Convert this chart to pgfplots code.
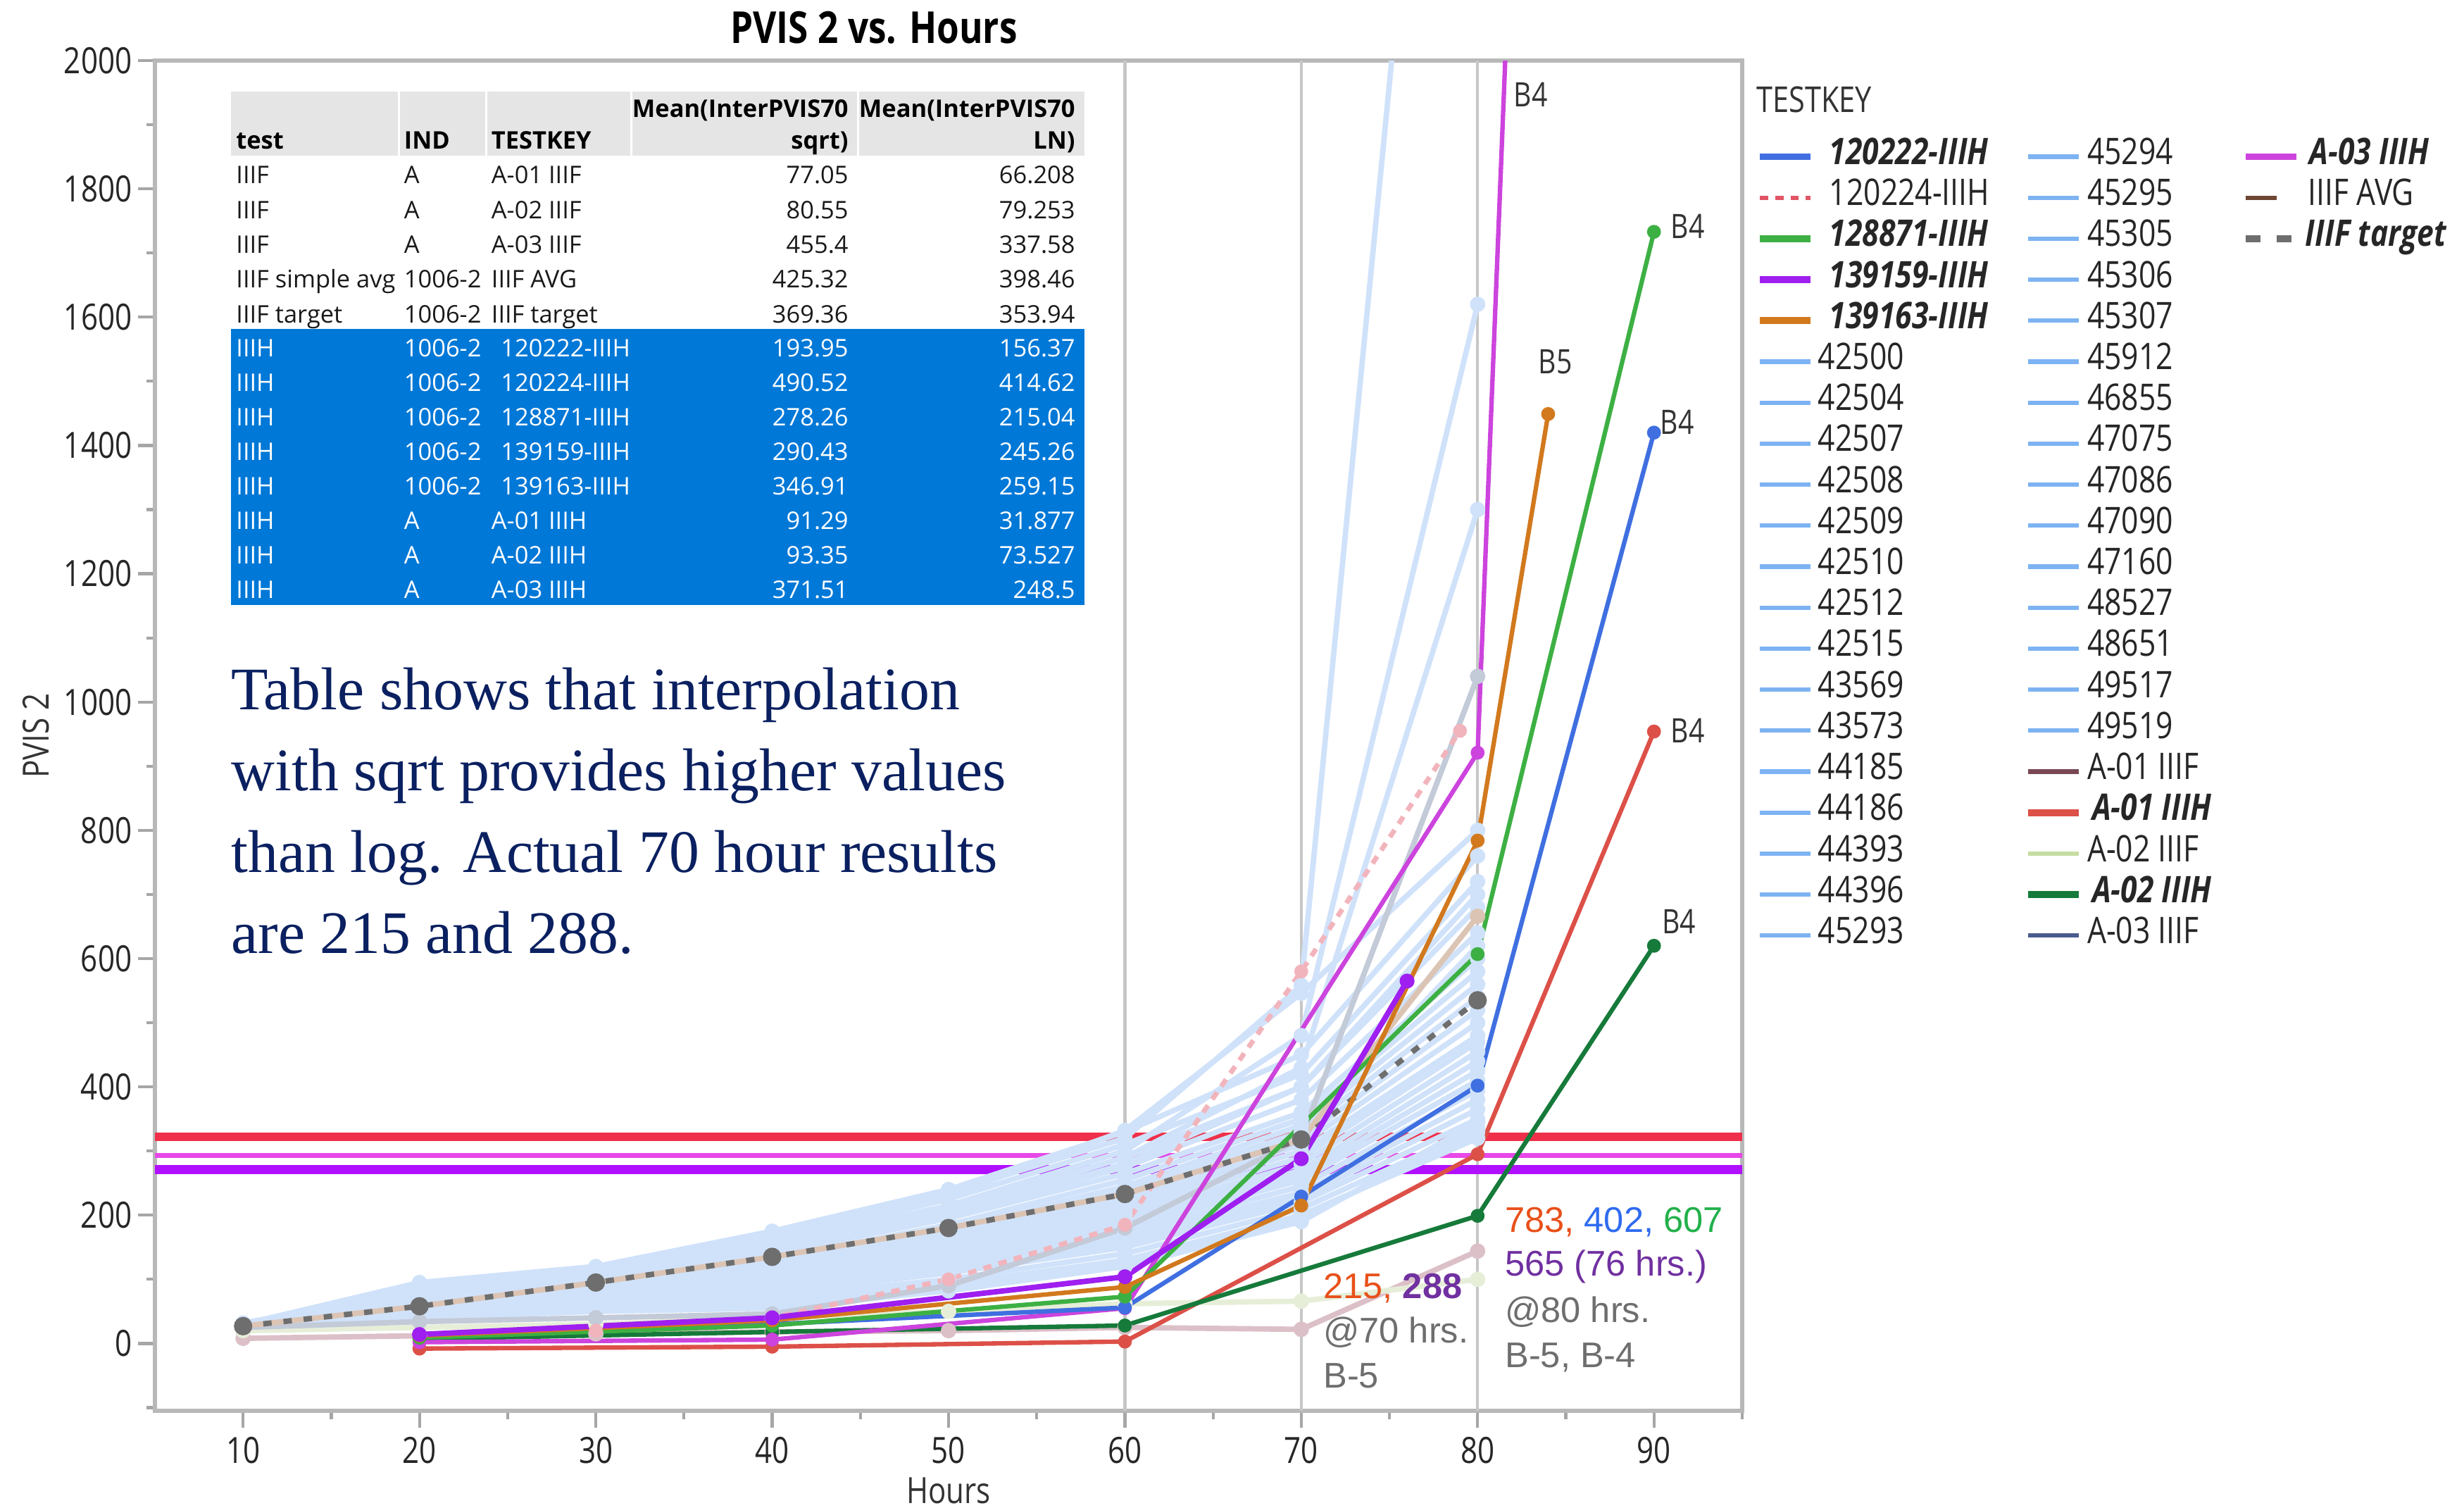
\documentclass[border=0pt]{standalone}
\usepackage{fontspec}
\setmainfont{Open Sans}[FakeStretch=0.82]
\newfontfamily\tabfont{Open Sans}
\newfontfamily\annfont{Liberation Sans}
\newfontfamily\bigserif{Liberation Serif}
\usepackage{pgfplots}
\pgfplotsset{compat=1.18}
\definecolor{lbc}{HTML}{D0E2FA}
\definecolor{lbleg}{HTML}{7DB3F2}
\definecolor{cblue}{HTML}{3F6FE0}
\definecolor{cpinkp}{HTML}{F2B4BC}
\definecolor{cpinkl}{HTML}{E05565}
\definecolor{cgreen}{HTML}{3DB043}
\definecolor{cpurple}{HTML}{9E1FEF}
\definecolor{corange}{HTML}{D2791E}
\definecolor{cred}{HTML}{DC5048}
\definecolor{cdgreen}{HTML}{167A3A}
\definecolor{cmag}{HTML}{CC44DD}
\definecolor{afonep}{HTML}{DCC0C8}
\definecolor{afonel}{HTML}{7A4855}
\definecolor{aftwop}{HTML}{E6EED8}
\definecolor{aftwol}{HTML}{C6DCA2}
\definecolor{afthreep}{HTML}{C3CAD8}
\definecolor{afthreel}{HTML}{4A5C8E}
\definecolor{avgp}{HTML}{DCC4B4}
\definecolor{avgl}{HTML}{6E4632}
\definecolor{ctarget}{HTML}{6E6E6E}
\definecolor{hred}{HTML}{F0304A}
\definecolor{hmag}{HTML}{E848E8}
\definecolor{hpur}{HTML}{B010FF}
\definecolor{tabblue}{HTML}{0078D7}
\definecolor{tabhead}{HTML}{E5E5E5}
\definecolor{navy}{HTML}{0A2060}
\definecolor{aorange}{HTML}{E8501A}
\definecolor{ablue}{HTML}{2F6BF0}
\definecolor{agreen}{HTML}{22B04A}
\definecolor{apurple}{HTML}{7030A0}
\definecolor{agray}{HTML}{6E6E6E}
\begin{document}
\begin{tikzpicture}
\useasboundingbox (-1.1,-0.685) rectangle (16.395,10.015);
\begin{axis}[
  scale only axis, width=11.27cm, height=9.585cm,
  xmin=5, xmax=95, ymin=-105, ymax=2000,
  xtick={10,20,30,40,50,60,70,80,90},
  ytick={0,200,400,600,800,1000,1200,1400,1600,1800,2000},
  minor xtick={15,25,35,45,55,65,75,85,95},
  minor ytick={-100,100,300,500,700,900,1100,1300,1500,1700,1900},
  tick pos=left, tick align=outside,
  major tick length=0.12cm, minor tick length=0.06cm,
  every tick/.style={draw=black!35, line width=0.6pt},
  axis line style={draw=black!28, line width=0.9pt},
  /pgf/number format/1000 sep={},
  /pgf/number format/assume math mode=true,
  xticklabel={\pgfmathprintnumber{\tick}},
  yticklabel={\pgfmathprintnumber{\tick}},
  ticklabel style={font=\fontsize{7.3}{8}\selectfont, text=black!85},
  xticklabel style={yshift=0.06cm},
  yticklabel style={xshift=0.08cm},
  xlabel={Hours}, ylabel={PVIS 2},
  xlabel style={font=\fontsize{7.3}{8}\selectfont, text=black!80, at={(axis description cs:0.5,-0.059)}, anchor=center},
  ylabel style={font=\fontsize{7.3}{8}\selectfont, text=black!80, at={(axis description cs:-0.075,0.5)}, anchor=center},
  legend columns=20, transpose legend,
  legend cell align=left,
  legend style={draw=none, fill=none, at={(axis description cs:1.0089,0.944)}, anchor=north west,
    inner sep=0pt, outer sep=0pt, row sep=0pt, column sep=0pt,
    font=\fontsize{7.4}{8}\selectfont, text=black!85,
    nodes={inner sep=0pt, text height=5.72pt, text depth=2.56pt}},
  legend image code/.code={\draw[#1] (0cm,0cm) -- (0.36cm,0cm);},
  lb/.style={color=lbc, line width=1.1pt, mark=*, mark size=1.0pt, forget plot},
  km/.style={line width=0.9pt, mark=*, mark size=0.95pt, forget plot},
]
% reference lines
\addplot[color=black!22, line width=0.6pt, forget plot] coordinates {(60,-105) (60,2000)};
\addplot[color=black!22, line width=0.6pt, forget plot] coordinates {(70,-105) (70,2000)};
\addplot[color=black!22, line width=0.6pt, forget plot] coordinates {(80,-105) (80,2000)};
\addplot[color=hred, line width=1.8pt, forget plot] coordinates {(5,322) (95,322)};
\addplot[color=hmag, line width=1pt, forget plot] coordinates {(5,293) (95,293)};
\addplot[color=hpur, line width=1.8pt, forget plot] coordinates {(5,271) (95,271)};
% light blue series
\addplot[lb] coordinates {(10,30)(20,95)(30,120)(40,175)(50,240)(60,330)(70,450)(80,760)};
\addplot[lb] coordinates {(10,28)(20,85)(30,112)(40,160)(50,225)(60,310)(70,420)(80,720)};
\addplot[lb] coordinates {(10,32)(20,80)(30,105)(40,150)(50,210)(60,290)(70,400)(80,680)};
\addplot[lb] coordinates {(10,26)(20,75)(30,100)(40,145)(50,200)(60,275)(70,380)(80,640)};
\addplot[lb] coordinates {(10,30)(20,70)(30,95)(40,140)(50,195)(60,265)(70,360)(80,600)};
\addplot[lb] coordinates {(10,25)(20,68)(30,92)(40,132)(50,185)(60,255)(70,350)(80,580)};
\addplot[lb] coordinates {(10,27)(20,65)(30,90)(40,128)(50,178)(60,245)(70,340)(80,560)};
\addplot[lb] coordinates {(10,24)(20,62)(30,88)(40,125)(50,172)(60,238)(70,330)(80,540)};
\addplot[lb] coordinates {(10,29)(20,60)(30,85)(40,120)(50,168)(60,230)(70,320)(80,520)};
\addplot[lb] coordinates {(10,26)(20,58)(30,82)(40,115)(50,160)(60,222)(70,310)(80,500)};
\addplot[lb] coordinates {(10,23)(20,55)(30,80)(40,112)(50,155)(60,215)(70,300)(80,480)};
\addplot[lb] coordinates {(10,28)(20,52)(30,78)(40,108)(50,150)(60,208)(70,290)(80,470)};
\addplot[lb] coordinates {(10,25)(20,50)(30,75)(40,104)(50,145)(60,200)(70,280)(80,455)};
\addplot[lb] coordinates {(10,22)(20,48)(30,72)(40,100)(50,140)(60,195)(70,270)(80,440)};
\addplot[lb] coordinates {(10,27)(20,46)(30,70)(40,96)(50,135)(60,188)(70,262)(80,425)};
\addplot[lb] coordinates {(10,24)(20,44)(30,68)(40,92)(50,130)(60,180)(70,255)(80,410)};
\addplot[lb] coordinates {(10,21)(20,42)(30,65)(40,88)(50,125)(60,172)(70,245)(80,395)};
\addplot[lb] coordinates {(10,26)(20,40)(30,62)(40,85)(50,120)(60,165)(70,235)(80,380)};
\addplot[lb] coordinates {(10,23)(20,38)(30,60)(40,82)(50,115)(60,158)(70,228)(80,365)};
\addplot[lb] coordinates {(10,20)(20,36)(30,57)(40,78)(50,110)(60,150)(70,220)(80,350)};
\addplot[lb] coordinates {(10,25)(20,42)(30,58)(40,72)(50,100)(60,140)(70,210)(80,335)};
\addplot[lb] coordinates {(10,22)(20,38)(30,52)(40,65)(50,92)(60,130)(70,200)(80,320)};
\addplot[lb] coordinates {(10,28)(20,45)(30,55)(40,60)(50,85)(60,122)(70,195)(80,330)};
\addplot[lb] coordinates {(10,24)(20,40)(30,50)(40,55)(50,82)(60,120)(70,190)(80,345)};
\addplot[lb] coordinates {(10,30)(20,90)(30,118)(40,170)(50,235)(60,320)(70,558)(80,3370)};
\addplot[lb] coordinates {(10,28)(20,80)(30,108)(40,155)(50,215)(60,300)(70,480)(80,1620)};
\addplot[lb] coordinates {(10,27)(20,75)(30,100)(40,145)(50,205)(60,290)(70,430)(80,1300)};
\addplot[lb] coordinates {(10,30)(20,88)(30,115)(40,165)(50,230)(60,332)(70,546)(80,800)};
\addplot[lb] coordinates {(10,26)(20,72)(30,98)(40,140)(50,200)(60,280)(70,400)(80,700)};
\addplot[lb] coordinates {(10,25)(20,60)(30,85)(40,118)(50,165)(60,230)(70,330)(80,620)};
% faded IIIF series
\addplot[color=afonep, line width=1.1pt, mark=*, mark size=1.0pt, forget plot] coordinates {(10,8)(20,12)(30,15)(40,18)(50,20)(60,25)(70,22)(80,144)};
\addplot[color=aftwop, line width=1.1pt, mark=*, mark size=1.0pt, forget plot] coordinates {(10,20)(20,25)(30,30)(40,40)(50,50)(60,62)(70,66)(80,100)};
\addplot[color=afthreep, line width=1.1pt, mark=*, mark size=1.0pt, forget plot] coordinates {(10,25)(20,34)(30,40)(40,46)(50,90)(60,180)(70,320)(80,1040)};
\addplot[color=avgp, line width=1.1pt, mark=*, mark size=1.0pt, forget plot] coordinates {(10,27)(20,58)(30,95)(40,135)(50,180)(60,233)(70,318)(80,666)};
\addplot[color=cpinkp, line width=1pt, dash pattern=on 1.7pt off 1.5pt, mark=*, mark size=0.9pt, mark options={solid}, forget plot] coordinates {(20,15)(30,20)(40,40)(50,100)(60,185)(70,580)(79,955)};
% IIIF target
\addplot[color=ctarget, line width=1.1pt, dash pattern=on 1.7pt off 2.4pt, mark=*, mark size=1.3pt, mark options={solid}, forget plot] coordinates {(10,27)(20,58)(30,95)(40,135)(50,180)(60,233)(70,318)(80,535)};
% key series
\addplot[km, color=cred] coordinates {(20,-8)(40,-5)(60,3)(80,295)(90,954)};
\addplot[km, color=cdgreen] coordinates {(20,7)(40,18)(60,28)(80,199)(90,620)};
\addplot[km, color=cmag] coordinates {(20,2)(40,6)(60,55)(80,921)(82,2300)};
\addplot[km, color=cblue] coordinates {(20,10)(40,30)(60,56)(70,229)(80,402)(90,1420)};
\addplot[km, color=cgreen] coordinates {(20,9)(40,28)(60,73)(80,607)(90,1733)};
\addplot[km, color=corange] coordinates {(20,12)(40,36)(60,88)(70,215)(80,784)(84,1449)};
\addplot[km, color=cpurple, line width=1.1pt] coordinates {(20,14)(40,40)(60,104)(70,288)(76,565)};
% end labels
\begin{scope}[every node/.style={anchor=base west, inner sep=0pt, font=\fontsize{6.8}{8}\selectfont, text=black!80}]
\node at (axis cs:82.0,1928) {B4};
\node at (axis cs:90.9,1723) {B4};
\node at (axis cs:83.4,1512) {B5};
\node at (axis cs:90.3,1417) {B4};
\node at (axis cs:90.9,936) {B4};
\node at (axis cs:90.4,639) {B4};
\end{scope}
\begin{scope}[every node/.style={anchor=base west, inner sep=0pt, font=\annfont\fontsize{7.2}{8}\selectfont, text=agray}]
\node at (axis cs:71.2,70) {\textcolor{aorange}{215,} \textcolor{apurple}{\bfseries 288}};
\node at (axis cs:71.2,1) {@70 hrs.};
\node at (axis cs:71.2,-69) {B-5};
\node at (axis cs:81.5,173) {\textcolor{aorange}{783,} \textcolor{ablue}{402,} \textcolor{agreen}{607}};
\node at (axis cs:81.5,105) {\textcolor{apurple}{565 (76 hrs.)}};
\node at (axis cs:81.5,33) {@80 hrs.};
\node at (axis cs:81.5,-37) {B-5, B-4};
\end{scope}
% legend
\addlegendimage{color=cblue, line width=1.4pt}
\addlegendentry{\makebox[1.497cm][l]{\hspace{0.11cm}\textbf{\textit{120222-IIIH}}}}
\addlegendimage{color=cpinkl, line width=0.9pt, dash pattern=on 1.7pt off 1.4pt}
\addlegendentry{\makebox[1.497cm][l]{\hspace{0.11cm}120224-IIIH}}
\addlegendimage{color=cgreen, line width=1.4pt}
\addlegendentry{\makebox[1.497cm][l]{\hspace{0.11cm}\textbf{\textit{128871-IIIH}}}}
\addlegendimage{color=cpurple, line width=1.4pt}
\addlegendentry{\makebox[1.497cm][l]{\hspace{0.11cm}\textbf{\textit{139159-IIIH}}}}
\addlegendimage{color=corange, line width=1.4pt}
\addlegendentry{\makebox[1.497cm][l]{\hspace{0.11cm}\textbf{\textit{139163-IIIH}}}}
\addlegendimage{color=lbleg, line width=0.9pt}\addlegendentry{\makebox[1.497cm][l]{\hspace{0.03cm}42500}}
\addlegendimage{color=lbleg, line width=0.9pt}\addlegendentry{\makebox[1.497cm][l]{\hspace{0.03cm}42504}}
\addlegendimage{color=lbleg, line width=0.9pt}\addlegendentry{\makebox[1.497cm][l]{\hspace{0.03cm}42507}}
\addlegendimage{color=lbleg, line width=0.9pt}\addlegendentry{\makebox[1.497cm][l]{\hspace{0.03cm}42508}}
\addlegendimage{color=lbleg, line width=0.9pt}\addlegendentry{\makebox[1.497cm][l]{\hspace{0.03cm}42509}}
\addlegendimage{color=lbleg, line width=0.9pt}\addlegendentry{\makebox[1.497cm][l]{\hspace{0.03cm}42510}}
\addlegendimage{color=lbleg, line width=0.9pt}\addlegendentry{\makebox[1.497cm][l]{\hspace{0.03cm}42512}}
\addlegendimage{color=lbleg, line width=0.9pt}\addlegendentry{\makebox[1.497cm][l]{\hspace{0.03cm}42515}}
\addlegendimage{color=lbleg, line width=0.9pt}\addlegendentry{\makebox[1.497cm][l]{\hspace{0.03cm}43569}}
\addlegendimage{color=lbleg, line width=0.9pt}\addlegendentry{\makebox[1.497cm][l]{\hspace{0.03cm}43573}}
\addlegendimage{color=lbleg, line width=0.9pt}\addlegendentry{\makebox[1.497cm][l]{\hspace{0.03cm}44185}}
\addlegendimage{color=lbleg, line width=0.9pt}\addlegendentry{\makebox[1.497cm][l]{\hspace{0.03cm}44186}}
\addlegendimage{color=lbleg, line width=0.9pt}\addlegendentry{\makebox[1.497cm][l]{\hspace{0.03cm}44393}}
\addlegendimage{color=lbleg, line width=0.9pt}\addlegendentry{\makebox[1.497cm][l]{\hspace{0.03cm}44396}}
\addlegendimage{color=lbleg, line width=0.9pt}\addlegendentry{\makebox[1.497cm][l]{\hspace{0.03cm}45293}}
\addlegendimage{color=lbleg, line width=0.9pt}\addlegendentry{\makebox[1.135cm][l]{\hspace{0.035cm}45294}}
\addlegendimage{color=lbleg, line width=0.9pt}\addlegendentry{\makebox[1.135cm][l]{\hspace{0.035cm}45295}}
\addlegendimage{color=lbleg, line width=0.9pt}\addlegendentry{\makebox[1.135cm][l]{\hspace{0.035cm}45305}}
\addlegendimage{color=lbleg, line width=0.9pt}\addlegendentry{\makebox[1.135cm][l]{\hspace{0.035cm}45306}}
\addlegendimage{color=lbleg, line width=0.9pt}\addlegendentry{\makebox[1.135cm][l]{\hspace{0.035cm}45307}}
\addlegendimage{color=lbleg, line width=0.9pt}\addlegendentry{\makebox[1.135cm][l]{\hspace{0.035cm}45912}}
\addlegendimage{color=lbleg, line width=0.9pt}\addlegendentry{\makebox[1.135cm][l]{\hspace{0.035cm}46855}}
\addlegendimage{color=lbleg, line width=0.9pt}\addlegendentry{\makebox[1.135cm][l]{\hspace{0.035cm}47075}}
\addlegendimage{color=lbleg, line width=0.9pt}\addlegendentry{\makebox[1.135cm][l]{\hspace{0.035cm}47086}}
\addlegendimage{color=lbleg, line width=0.9pt}\addlegendentry{\makebox[1.135cm][l]{\hspace{0.035cm}47090}}
\addlegendimage{color=lbleg, line width=0.9pt}\addlegendentry{\makebox[1.135cm][l]{\hspace{0.035cm}47160}}
\addlegendimage{color=lbleg, line width=0.9pt}\addlegendentry{\makebox[1.135cm][l]{\hspace{0.035cm}48527}}
\addlegendimage{color=lbleg, line width=0.9pt}\addlegendentry{\makebox[1.135cm][l]{\hspace{0.035cm}48651}}
\addlegendimage{color=lbleg, line width=0.9pt}\addlegendentry{\makebox[1.135cm][l]{\hspace{0.035cm}49517}}
\addlegendimage{color=lbleg, line width=0.9pt}\addlegendentry{\makebox[1.135cm][l]{\hspace{0.035cm}49519}}
\addlegendimage{color=afonel, line width=0.9pt}\addlegendentry{\makebox[1.135cm][l]{\hspace{0.035cm}A-01 IIIF}}
\addlegendimage{color=cred, line width=1.4pt}\addlegendentry{\makebox[1.135cm][l]{\hspace{0.07cm}\textbf{\textit{A-01 IIIH}}}}
\addlegendimage{color=aftwol, line width=0.9pt}\addlegendentry{\makebox[1.135cm][l]{\hspace{0.035cm}A-02 IIIF}}
\addlegendimage{color=cdgreen, line width=1.4pt}\addlegendentry{\makebox[1.135cm][l]{\hspace{0.07cm}\textbf{\textit{A-02 IIIH}}}}
\addlegendimage{color=afthreel, line width=0.9pt}\addlegendentry{\makebox[1.135cm][l]{\hspace{0.035cm}A-03 IIIF}}
\addlegendimage{color=cmag, line width=1.4pt}\addlegendentry{\hspace{0.07cm}\textbf{\textit{A-03 IIIH}}}
\addlegendimage{legend image code/.code={\draw[avgl, line width=0.9pt] (0cm,0cm) -- (0.22cm,0cm);}}\addlegendentry{\hspace{0.06cm}IIIF AVG}
\addlegendimage{legend image code/.code={\draw[ctarget, line width=1.4pt, dash pattern=on 3pt off 3.2pt] (0cm,0cm) -- (0.36cm,0cm);}}\addlegendentry{\hspace{0.04cm}\textbf{\textit{IIIF target}}}
\pgfplotsforeachungrouped \i in {1,...,17}{\addlegendimage{empty legend}\addlegendentry{}}
\end{axis}
% title and legend title
\node[anchor=base, inner sep=0pt, font=\bfseries\fontsize{8.9}{10}\selectfont] at (5.105,9.705) {PVIS 2 vs. Hours};
\node[anchor=west, inner sep=0pt, font=\fontsize{7.2}{8}\selectfont, text=black!80] at (11.365,9.3075) {TESTKEY};
% table
\fill[tabhead] (0.54,8.9125) rectangle (1.7235,9.365);
\fill[tabhead] (1.7385,8.9125) rectangle (2.343,9.365);
\fill[tabhead] (2.358,8.9125) rectangle (3.375,9.365);
\fill[tabhead] (3.39,8.9125) rectangle (4.9825,9.365);
\fill[tabhead] (4.9975,8.9125) rectangle (6.60,9.365);
\fill[tabblue] (0.54,5.722) rectangle (6.60,7.68);
\begin{scope}[every node/.style={inner sep=0pt, font=\tabfont\fontsize{4.9}{5.5}\selectfont}]
\node[anchor=base west, font=\tabfont\bfseries\fontsize{4.9}{5.5}\selectfont] at (0.57,8.955) {test};
\node[anchor=base west, font=\tabfont\bfseries\fontsize{4.9}{5.5}\selectfont] at (1.7625,8.955) {IND};
\node[anchor=base west, font=\tabfont\bfseries\fontsize{4.9}{5.5}\selectfont] at (2.3825,8.955) {TESTKEY};
\node[anchor=base east, font=\tabfont\bfseries\fontsize{4.9}{5.5}\selectfont] at (4.93,9.18) {Mean(InterPVIS70};
\node[anchor=base east, font=\tabfont\bfseries\fontsize{4.9}{5.5}\selectfont] at (4.93,8.955) {sqrt)};
\node[anchor=base east, font=\tabfont\bfseries\fontsize{4.9}{5.5}\selectfont] at (6.54,9.18) {Mean(InterPVIS70};
\node[anchor=base east, font=\tabfont\bfseries\fontsize{4.9}{5.5}\selectfont] at (6.54,8.955) {LN)};
\foreach \a/\b/\c/\d/\e [count=\i] in {IIIF/A/A-01 IIIF/77.05/66.208, IIIF/A/A-02 IIIF/80.55/79.253, IIIF/A/A-03 IIIF/455.4/337.58, IIIF simple avg/1006-2/IIIF AVG/425.32/398.46, IIIF target/1006-2/IIIF target/369.36/353.94}{
  \pgfmathsetmacro\yb{8.9125-\i*0.2465+0.045}
  \node[anchor=base west, text=black!90] at (0.57,\yb) {\a};
  \node[anchor=base west, text=black!90] at (1.7625,\yb) {\b};
  \node[anchor=base west, text=black!90] at (2.3825,\yb) {\c};
  \node[anchor=base east, text=black!90] at (4.93,\yb) {\d};
  \node[anchor=base east, text=black!90] at (6.54,\yb) {\e};
}
\foreach \a/\b/\x/\c/\d/\e [count=\i] in {IIIH/1006-2/2.45/120222-IIIH/193.95/156.37, IIIH/1006-2/2.45/120224-IIIH/490.52/414.62, IIIH/1006-2/2.45/128871-IIIH/278.26/215.04, IIIH/1006-2/2.45/139159-IIIH/290.43/245.26, IIIH/1006-2/2.45/139163-IIIH/346.91/259.15, IIIH/A/2.3825/A-01 IIIH/91.29/31.877, IIIH/A/2.3825/A-02 IIIH/93.35/73.527, IIIH/A/2.3825/A-03 IIIH/371.51/248.5}{
  \pgfmathsetmacro\yb{7.68-\i*0.24475+0.045}
  \node[anchor=base west, text=white] at (0.57,\yb) {\a};
  \node[anchor=base west, text=white] at (1.7625,\yb) {\b};
  \node[anchor=base west, text=white] at (\x,\yb) {\c};
  \node[anchor=base east, text=white] at (4.93,\yb) {\d};
  \node[anchor=base east, text=white] at (6.54,\yb) {\e};
}
\end{scope}
% big text
\begin{scope}[every node/.style={anchor=base west, inner sep=0pt, text=navy, font=\bigserif\fontsize{12.2}{16.4}\selectfont}]
\node at (0.535,4.98) {Table shows that interpolation};
\node at (0.535,4.4025) {with sqrt provides higher values};
\node at (0.535,3.825) {than log. Actual 70 hour results};
\node at (0.535,3.2475) {are 215 and 288.};
\end{scope}
\end{tikzpicture}
\end{document}
